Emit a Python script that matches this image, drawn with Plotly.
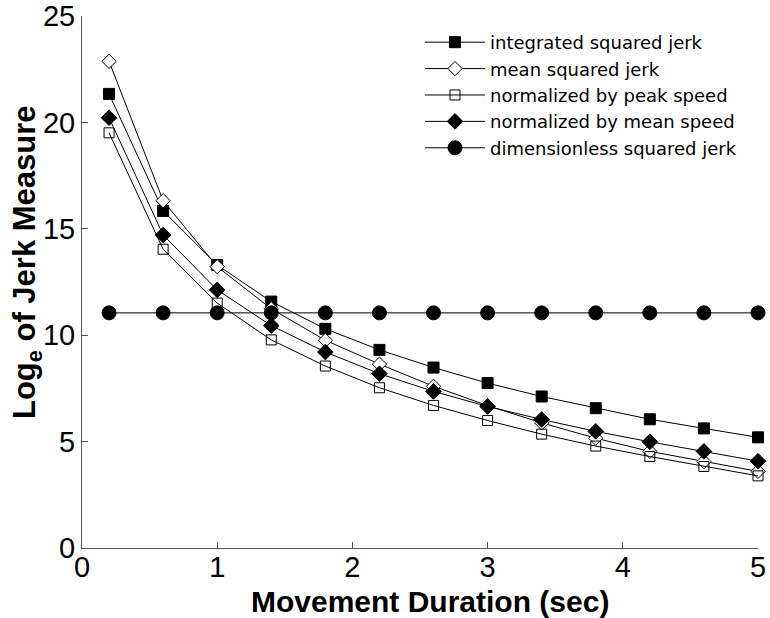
import plotly.graph_objects as go

duration = [0.2, 0.6, 1.0, 1.4, 1.8, 2.2, 2.6, 3.0, 3.4, 3.8, 4.2, 4.6, 5.0]

integrated_sq_jerk = [21.34, 15.84, 13.30, 11.58, 10.30, 9.31, 8.48, 7.75, 7.12, 6.57, 6.05, 5.62, 5.20]
mean_sq_jerk = [22.87, 16.32, 13.22, 11.24, 9.76, 8.64, 7.60, 6.69, 5.88, 5.16, 4.54, 4.06, 3.60]
norm_peak_speed = [19.51, 14.04, 11.51, 9.78, 8.55, 7.53, 6.70, 5.99, 5.35, 4.79, 4.30, 3.83, 3.39]
norm_mean_speed = [20.22, 14.71, 12.13, 10.45, 9.21, 8.19, 7.36, 6.65, 6.04, 5.48, 4.99, 4.54, 4.08]
dimensionless_sq_jerk = [11.05] * 13

series_names = [
    "integrated squared jerk",
    "mean squared jerk",
    "normalized by peak speed",
    "normalized by mean speed",
    "dimensionless squared jerk",
]

x_ticks = [0, 1, 2, 3, 4, 5]
y_ticks = [0, 5, 10, 15, 20, 25]

x_title = "<b>Movement Duration (sec)</b>"
y_title = "<b>Log<sub>e</sub> of Jerk Measure</b>"

FONT = "Liberation Sans, Arial, Helvetica, sans-serif"
LEGEND_FONT = "DejaVu Sans, Verdana, sans-serif"

styles = [
    dict(symbol="square", size=11, color="black", line=dict(color="black", width=1)),
    dict(symbol="diamond", size=11, color="white", line=dict(color="black", width=1)),
    dict(symbol="square", size=10, color="rgba(255,255,255,0)", line=dict(color="black", width=1)),
    dict(symbol="diamond", size=12, color="black", line=dict(color="black", width=1)),
    dict(symbol="circle", size=14, color="black", line=dict(color="black", width=1)),
]

data = [integrated_sq_jerk, mean_sq_jerk, norm_peak_speed, norm_mean_speed, dimensionless_sq_jerk]

fig = go.Figure()
for name, ys, st in zip(series_names, data, styles):
    fig.add_trace(go.Scatter(
        x=duration, y=ys, name=name, mode="lines+markers",
        line=dict(color="black", width=1),
        marker=st,
        cliponaxis=False,
    ))

fig.update_layout(
    width=770, height=618,
    margin=dict(l=82, r=12, t=16, b=70, autoexpand=False),
    paper_bgcolor="white", plot_bgcolor="white",
    font=dict(family=FONT, color="black"),
    showlegend=True,
    legend=dict(
        x=0.5, y=0.985, xanchor="left", yanchor="top",
        bgcolor="rgba(0,0,0,0)", borderwidth=0,
        font=dict(family=LEGEND_FONT, size=18, color="black"),
        itemwidth=60, tracegroupgap=0,
    ),
    xaxis=dict(
        range=[0, 5], tickvals=x_ticks, ticktext=[str(v) for v in x_ticks],
        ticks="inside", ticklen=6, tickcolor="#555", showgrid=False, zeroline=False,
        showline=True, linecolor="#555", linewidth=1,
        ticklabeloverflow="allow", ticklabelstandoff=-7,
        tickfont=dict(family=FONT, size=29, color="black"),
    ),
    yaxis=dict(
        range=[0, 25], tickvals=y_ticks, ticktext=[str(v) for v in y_ticks],
        ticks="inside", ticklen=6, tickcolor="#555", showgrid=False, zeroline=False,
        showline=True, linecolor="#555", linewidth=1,
        ticklabeloverflow="allow",
        tickfont=dict(family=FONT, size=29, color="black"),
    ),
    annotations=[
        dict(text=x_title, xref="paper", yref="paper", x=0.515, y=-0.1,
             xanchor="center", yanchor="middle", showarrow=False,
             font=dict(family=FONT, size=30, color="black")),
        dict(text=y_title, xref="paper", yref="paper", x=-0.081, y=0.538,
             xanchor="center", yanchor="middle", showarrow=False, textangle=-90,
             font=dict(family=FONT, size=31, color="black")),
    ],
)

fig.write_html("out.html")
